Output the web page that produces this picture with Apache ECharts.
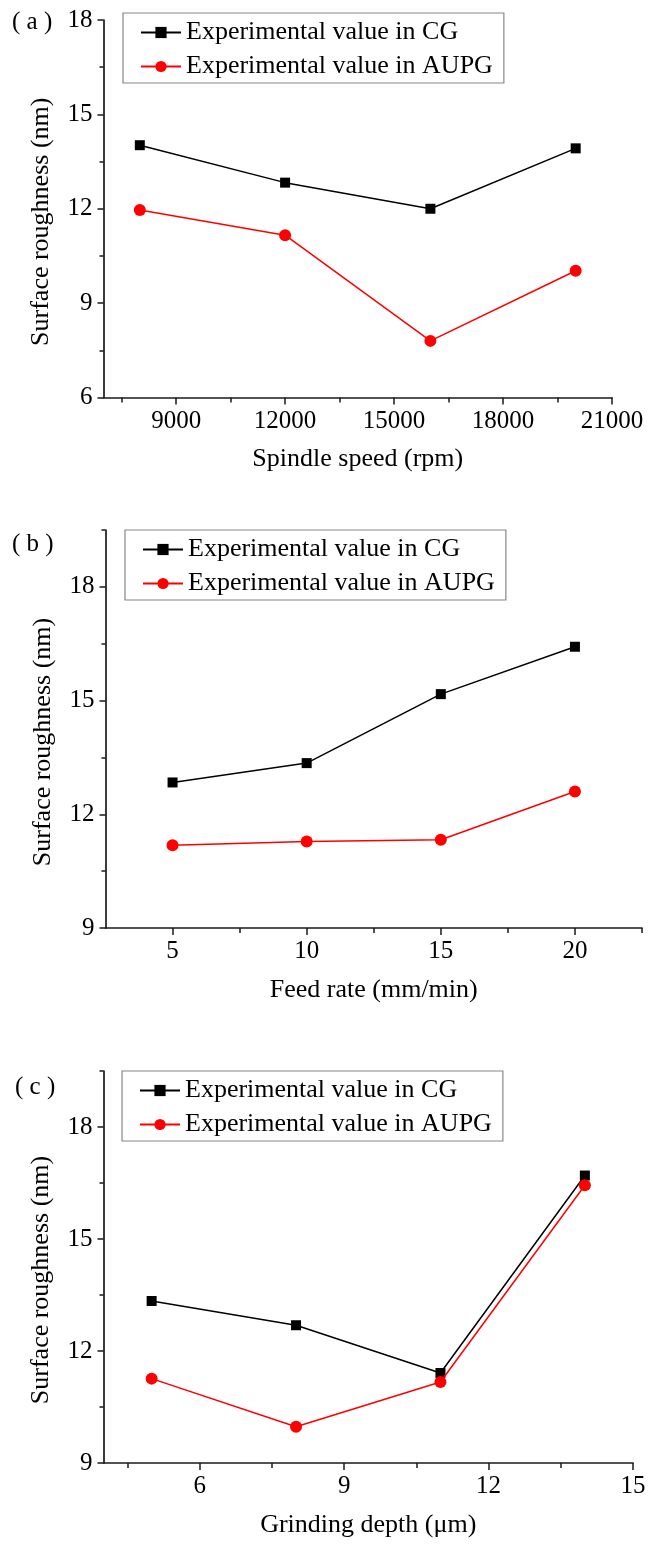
<!DOCTYPE html>
<html>
<head>
<meta charset="utf-8">
<script src="https://cdn.jsdelivr.net/npm/echarts@6/dist/echarts.min.js"></script>
<style>
html,body{margin:0;padding:0;background:#fff;}
#chart{width:662px;height:1544px;}
</style>
</head>
<body>
<div id="chart"></div>
<script>
// ---- data ----
const nameCG = 'Experimental value in CG';
const nameAUPG = 'Experimental value in AUPG';
const yTitle = 'Surface roughness (nm)';

// (a) spindle speed
const xA = [8000, 12000, 16000, 20000];
const cgA = [14.02, 12.83, 12.0, 13.92];
const aupgA = [11.96, 11.16, 7.8, 10.03];
const xTicksA = [9000, 12000, 15000, 18000, 21000];
const xMinorA = [7500, 10500, 13500, 16500, 19500];
const yTicksA = [6, 9, 12, 15, 18];
const yMinorA = [7.5, 10.5, 13.5, 16.5];

// (b) feed rate
const xB = [5, 10, 15, 20];
const cgB = [12.84, 13.35, 15.17, 16.42];
const aupgB = [11.18, 11.28, 11.33, 12.60];
const xTicksB = [5, 10, 15, 20];
const xMinorB = [7.5, 12.5, 17.5, 22.5];
const yTicksB = [9, 12, 15, 18];
const yMinorB = [10.5, 13.5, 16.5, 19.5];

// (c) grinding depth
const xC = [5, 8, 11, 14];
const cgC = [13.34, 12.69, 11.41, 16.70];
const aupgC = [11.26, 9.97, 11.17, 16.44];
const xTicksC = [6, 9, 12, 15];
const xMinorC = [4.5, 7.5, 10.5, 13.5];
const yTicksC = [9, 12, 15, 18];
const yMinorC = [10.5, 13.5, 16.5, 19.5];

const panels = [
  {tag:'a', xName:'Spindle speed (rpm)', x:xA, cg:cgA, aupg:aupgA, xT:xTicksA, xM:xMinorA, yT:yTicksA, yM:yMinorA,
   xMin:7000, xMax:21000, yMin:6, yMax:18,
   grid:{left:103.5, top:20, width:508.5, height:377.5}, legend:{left:123, top:13}, tagPos:[12,22]},
  {tag:'b', xName:'Feed rate (mm/min)', x:xB, cg:cgB, aupg:aupgB, xT:xTicksB, xM:xMinorB, yT:yTicksB, yM:yMinorB,
   xMin:2.5, xMax:22.5, yMin:9, yMax:19.5,
   grid:{left:105.5, top:530, width:536.5, height:398}, legend:{left:125, top:530}, tagPos:[12,544]},
  {tag:'c', xName:'Grinding depth (μm)', x:xC, cg:cgC, aupg:aupgC, xT:xTicksC, xM:xMinorC, yT:yTicksC, yM:yMinorC,
   xMin:4, xMax:15, yMin:9, yMax:19.5,
   grid:{left:103.5, top:1071, width:529.5, height:392}, legend:{left:122, top:1071}, tagPos:[15,1087]}
];

const FONT = 'Liberation Serif, Times New Roman, serif';
const AX = '#1a1a1a';

function axes(gi, isX, min, max, major, minor, name) {
  const main = {
    gridIndex: gi, type: 'value', min: min, max: max,
    position: isX ? 'bottom' : 'left',
    name: name, nameLocation: 'middle', nameGap: 49,
    nameTextStyle: {fontFamily: FONT, fontSize: 26, color: '#000', padding: isX ? 0 : [0, 26, 0, 0]},
    axisLine: {show: true, onZero: false, lineStyle: {color: AX, width: 1.7}},
    axisTick: {show: true, customValues: major, length: isX ? 7 : 6, lineStyle: {color: AX, width: 1.5}},
    axisLabel: {show: true, customValues: major, margin: 11, fontFamily: FONT, fontSize: 25, color: '#000',
                formatter: v => String(v)},
    splitLine: {show: false}
  };
  const mi = {
    gridIndex: gi, type: 'value', min: min, max: max,
    position: isX ? 'bottom' : 'left', offset: 0,
    axisLine: {show: false, onZero: false},
    axisTick: {show: true, customValues: minor, length: isX ? 5 : 4, lineStyle: {color: AX, width: 1.5}},
    axisLabel: {show: false},
    splitLine: {show: false}
  };
  return [main, mi];
}

const grids = [], xAxes = [], yAxes = [], series = [], legends = [], graphics = [];
panels.forEach((p, i) => {
  grids.push(Object.assign({outerBoundsMode: 'none', containLabel: false}, p.grid));
  const xa = axes(i, true, p.xMin, p.xMax, p.xT, p.xM, p.xName);
  const ya = axes(i, false, p.yMin, p.yMax, p.yT, p.yM, yTitle);
  const xi = xAxes.length, yi = yAxes.length;
  xAxes.push(xa[0], xa[1]);
  yAxes.push(ya[0], ya[1]);
  series.push({
    name: nameCG, type: 'line', xAxisIndex: xi, yAxisIndex: yi,
    data: p.x.map((v, k) => [v, p.cg[k]]),
    symbol: 'rect', symbolSize: 10, color: '#000',
    lineStyle: {color: '#000', width: 1.5}, itemStyle: {color: '#000'}, z: 2
  });
  series.push({
    name: nameAUPG, type: 'line', xAxisIndex: xi, yAxisIndex: yi,
    data: p.x.map((v, k) => [v, p.aupg[k]]),
    symbol: 'circle', symbolSize: 12, color: '#ff0000',
    lineStyle: {color: '#ff0000', width: 1.5}, itemStyle: {color: '#ff0000'}, z: 3
  });
  legends.push({
    left: p.legend.left, top: p.legend.top, orient: 'vertical',
    data: [nameCG, nameAUPG],
    itemWidth: 40, itemHeight: 14, itemGap: 7,
    padding: [6, 11, 3, 17],
    borderColor: '#888', borderWidth: 1.2, backgroundColor: '#fff',
    textStyle: {fontFamily: FONT, fontSize: 26, color: '#000', lineHeight: 27},
    selectedMode: false
  });
  graphics.push({
    type: 'text', x: p.tagPos[0], y: p.tagPos[1],
    style: {
      text: '( ' + p.tag + ' )',
      fontFamily: FONT, fontSize: 25, fill: '#000',
      align: 'left', verticalAlign: 'middle'
    }
  });
});

const chart = echarts.init(document.getElementById('chart'), null, {renderer: 'canvas'});
chart.setOption({
  animation: false,
  backgroundColor: '#fff',
  grid: grids, xAxis: xAxes, yAxis: yAxes, series: series,
  legend: legends, graphic: graphics
});
</script>
</body>
</html>
